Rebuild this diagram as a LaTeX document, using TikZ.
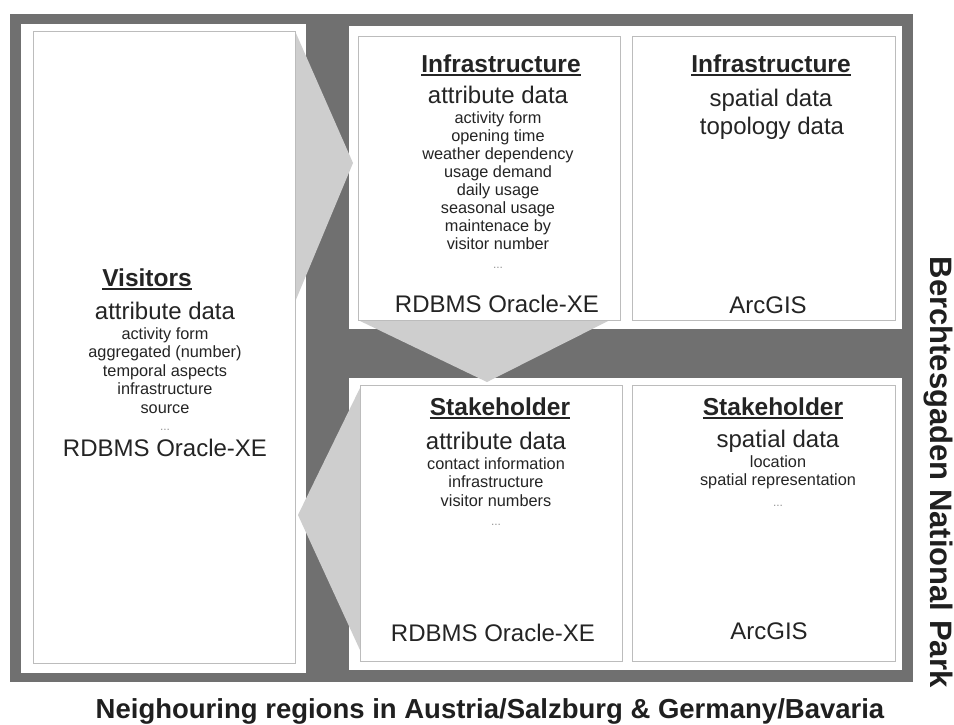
\documentclass[tikz,border=0pt]{standalone}
\usepackage{fontspec}
\setmainfont{Liberation Sans}

\definecolor{framegray}{RGB}{112,112,112}
\definecolor{arrowgray}{RGB}{206,206,206}
\definecolor{boxline}{RGB}{188,188,188}
\definecolor{inkgray}{RGB}{36,36,36}
\definecolor{dotgray}{RGB}{150,150,150}

% underlined heading with a visible rule
\newcommand\titleline[1]{\setbox0\hbox{#1}\rlap{\rule[-3.5pt]{\wd0}{1.5pt}}\box0}

\tikzset{
  panel/.style={fill=white, draw=none, inner sep=0, outer sep=0},
  dbbox/.style={draw=boxline, line width=0.9pt, inner sep=0, outer sep=0},
  chevron/.style={fill=arrowgray, draw=none},
  head/.style={anchor=base, inner sep=0, text=inkgray, font=\fontsize{24.5}{26}\selectfont\bfseries},
  big/.style={anchor=base, inner sep=0, text=inkgray, font=\fontsize{24}{26}\selectfont},
  item/.style={anchor=base, inner sep=0, text=inkgray, font=\fontsize{16.3}{18}\selectfont},
  more/.style={anchor=base, inner sep=0, text=dotgray, font=\fontsize{12}{14}\selectfont},
  region/.style={anchor=base, inner sep=0, text=black!88, font=\bfseries},
}

\begin{document}
\begin{tikzpicture}[x=1pt,y=-1pt]
  \useasboundingbox (0,0) rectangle (954,724);
  % dark frame and white panels
  \fill[framegray] (10,14) rectangle (913,682);
  \node[panel, minimum width=285, minimum height=649] (visP) at (163.5,348.5) {};
  \node[panel, minimum width=553, minimum height=303] (infP) at (625.5,177.5) {};
  \node[panel, minimum width=553, minimum height=292] (stkP) at (625.5,524) {};

  % grey chevrons between the stores
  \coordinate (tipA) at (353,163);
  \coordinate (endA) at (295,302);
  \coordinate (tipB) at (487,382);
  \coordinate (endB) at (610,320);
  \coordinate (topC) at (360,388);
  \coordinate (tipC) at (298,515);
  \coordinate (endC) at (360,650);
  \fill[chevron] (295,31) -- (tipA) -- (endA) -- cycle;
  \fill[chevron] (358,320) -- (tipB) -- (endB) -- cycle;
  \fill[chevron] (topC) -- (tipC) -- (endC) -- cycle;

  % inner boxes
  \node[dbbox, minimum width=262, minimum height=632] (visIn) at (164,347) {};
  \node[dbbox, minimum width=262, minimum height=284] (infA) at (489,178) {};
  \node[dbbox, minimum width=263, minimum height=284] (infB) at (763.5,178) {};
  \node[dbbox, minimum width=262, minimum height=276] (stkA) at (491,523) {};
  \node[dbbox, minimum width=263, minimum height=276] (stkB) at (763.5,523) {};

  % Visitors
  \node[head] (visT) at (147,286) {\titleline{Visitors}};
  \node[big] (visD) at (165,319) {attribute data};
  \foreach \t [count=\i] in {activity form,aggregated (number),temporal aspects,infrastructure,source}
    \node[item] (visI\i) at (165,{339+18.5*(\i-1)}) {\t};
  \node[more] (visM) at (165,430) {...};
  \node[big] (visS) at (165,456) {RDBMS Oracle-XE};

  % Infrastructure, attributes
  \node[head] (infAT) at (501,72) {\titleline{Infrastructure}};
  \node[big] (infAD) at (498,103) {attribute data};
  \foreach \t [count=\i] in {activity form,opening time,weather dependency,usage demand,daily usage,seasonal usage,maintenace by,visitor number}
    \node[item] (infAI\i) at (498,{123+18.1*(\i-1)}) {\t};
  \node[more] (infAM) at (498,268) {...};
  \node[big] (infAS) at (497,312) {RDBMS Oracle-XE};

  % Infrastructure, geometry
  \node[head] (infBT) at (771,72) {\titleline{Infrastructure}};
  \node[big] (infBD) at (771,106) {spatial data};
  \node[big] (infBE) at (772,134) {topology data};
  \node[big] (infBS) at (768,313) {ArcGIS};

  % Stakeholder, attributes
  \node[head] (stkAT) at (500,415) {\titleline{Stakeholder}};
  \node[big] (stkAD) at (496,449) {attribute data};
  \foreach \t [count=\i] in {contact information,infrastructure,visitor numbers}
    \node[item] (stkAI\i) at (496,{469+18.5*(\i-1)}) {\t};
  \node[more] (stkAM) at (496,525) {...};
  \node[big] (stkAS) at (493,641) {RDBMS Oracle-XE};

  % Stakeholder, geometry
  \node[head] (stkBT) at (773,415) {\titleline{Stakeholder}};
  \node[big] (stkBD) at (778,447) {spatial data};
  \foreach \t [count=\i] in {location,spatial representation}
    \node[item] (stkBI\i) at (778,{467+18.8*(\i-1)}) {\t};
  \node[more] (stkBM) at (778,506) {...};
  \node[big] (stkBS) at (769,639) {ArcGIS};

  % outer labels
  \node[region, font=\fontsize{31}{33}\selectfont\bfseries, rotate=-90] (park) at (930,472) {Berchtesgaden National Park};
  \node[region, font=\fontsize{27.5}{30}\selectfont\bfseries] (nbr) at (490,718) {Neighouring regions in Austria/Salzburg \& Germany/Bavaria};
\end{tikzpicture}
\end{document}
